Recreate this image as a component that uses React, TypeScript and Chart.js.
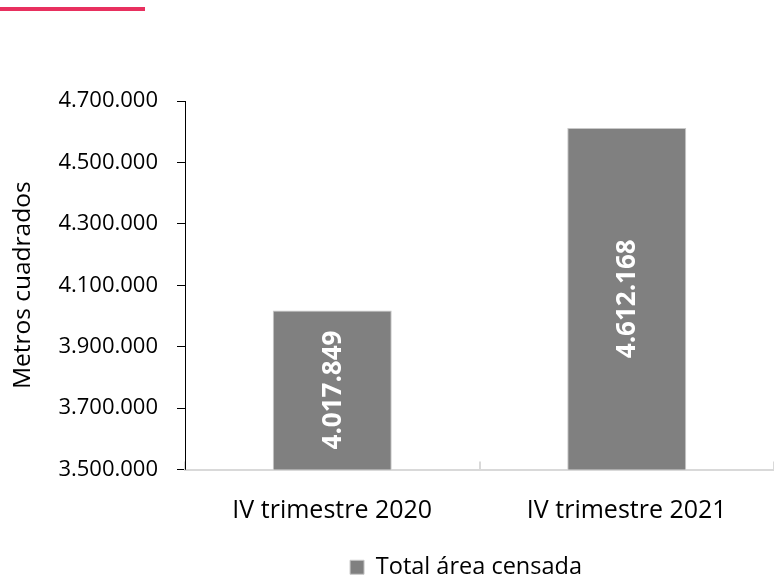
import React, { useEffect, useRef } from "react";
import { Chart, registerables } from "chart.js";

Chart.register(...registerables);

const categories = ["IV trimestre 2020", "IV trimestre 2021"];
const seriesName = "Total área censada";
const seriesValues = [4017849, 4612168];
const yMin = 3500000;
const yMax = 4700000;
const yStep = 200000;

const fmt = (v: number) => String(Math.round(v)).replace(/\B(?=(\d{3})+(?!\d))/g, ".");

const decoPlugin = {
  id: "deco",
  afterLayout(chart: any) {
    const lg = chart.legend;
    if (lg) {
      lg.left += 79;
      lg.right += 79;
    }
  },
  beforeDraw(chart: any) {
    const ctx = chart.ctx;
    ctx.save();
    ctx.fillStyle = "#E8305F";
    ctx.fillRect(0, 7, 145, 4);
    ctx.restore();
  },
  afterDraw(chart: any) {
    const ctx = chart.ctx;
    const xs = chart.scales.x;
    const ys = chart.scales.y;
    const area = chart.chartArea;
    ctx.save();
    ctx.strokeStyle = "#d9d9d9";
    ctx.lineWidth = 2;
    for (let i = 0; i <= categories.length; i++) {
      const x = Math.round(xs.getPixelForValue(i - 0.5));
      ctx.beginPath();
      ctx.moveTo(x, area.bottom);
      ctx.lineTo(x, area.bottom - 8);
      ctx.stroke();
    }
    ctx.strokeStyle = "#000";
    ctx.lineWidth = 1;
    ctx.beginPath();
    ctx.moveTo(area.left + 0.5, area.top);
    ctx.lineTo(area.left + 0.5, area.bottom);
    ctx.stroke();
    ctx.restore();

    ctx.save();
    ctx.fillStyle = "#ffffff";
    ctx.font = "bold 26px 'Open Sans', sans-serif";
    ctx.textAlign = "center";
    ctx.textBaseline = "middle";
    seriesValues.forEach((v, i) => {
      const cx = xs.getPixelForValue(i);
      const top = ys.getPixelForValue(v);
      const base = ys.getPixelForValue(yMin);
      const cy = (top + base) / 2;
      ctx.save();
      ctx.translate(cx, cy);
      ctx.rotate(-Math.PI / 2);
      ctx.fillText(fmt(v), 0, 1);
      ctx.restore();
    });
    ctx.restore();
  },
};

export default function App() {
  const ref = useRef<HTMLCanvasElement>(null);
  useEffect(() => {
    if (!ref.current) return;
    const chart = new Chart(ref.current, {
      type: "bar",
      data: {
        labels: categories,
        datasets: [
          {
            label: seriesName,
            data: seriesValues,
            backgroundColor: "#808080",
            borderColor: "#c8c8c8",
            borderWidth: 1,
            barPercentage: 0.404,
            categoryPercentage: 1,
          },
        ],
      },
      options: {
        animation: false,
        responsive: false,
        maintainAspectRatio: false,
        layout: { padding: { top: 101, left: 0, right: 0, bottom: -11 } },
        plugins: {
          tooltip: { enabled: false },
          legend: {
            position: "bottom",
            labels: {
              boxWidth: 14,
              boxHeight: 14,
              padding: 10,
              color: "#000",
              font: { family: "'Open Sans'", size: 23.5 },
            },
          },
        },
        scales: {
          x: {
            grid: { display: false },
            border: { display: true, color: "#d9d9d9", width: 2 },
            ticks: {
              color: "#000",
              padding: 18,
              font: { family: "'Open Sans'", size: 25 },
              maxRotation: 0,
            },
            afterFit(scale: any) {
              scale.height = 76;
            },
          },
          y: {
            min: yMin,
            max: yMax,
            grid: { drawOnChartArea: false, drawTicks: true, tickLength: 8, color: "#000" },
            border: { display: true, color: "#000", width: 1 },
            ticks: {
              stepSize: yStep,
              color: "#000",
              padding: 19,
              font: { family: "'Open Sans'", size: 22 },
              callback: (v: any) => fmt(Number(v)),
            },
            title: {
              display: true,
              text: "Metros cuadrados",
              color: "#000",
              padding: { top: 8, bottom: 0 },
              font: { family: "'Open Sans'", size: 24.5 },
            },
            afterFit(scale: any) {
              scale.width = 185;
              scale.paddingTop = 0;
              scale.paddingBottom = 0;
            },
          },
        },
      },
      plugins: [decoPlugin],
    });
    return () => chart.destroy();
  }, []);
  return (
    <div style={{ position: "absolute", left: 0, top: 0, width: 774, height: 578 }}>
      <canvas ref={ref} width={774} height={578} style={{ display: "block" }} />
    </div>
  );
}
